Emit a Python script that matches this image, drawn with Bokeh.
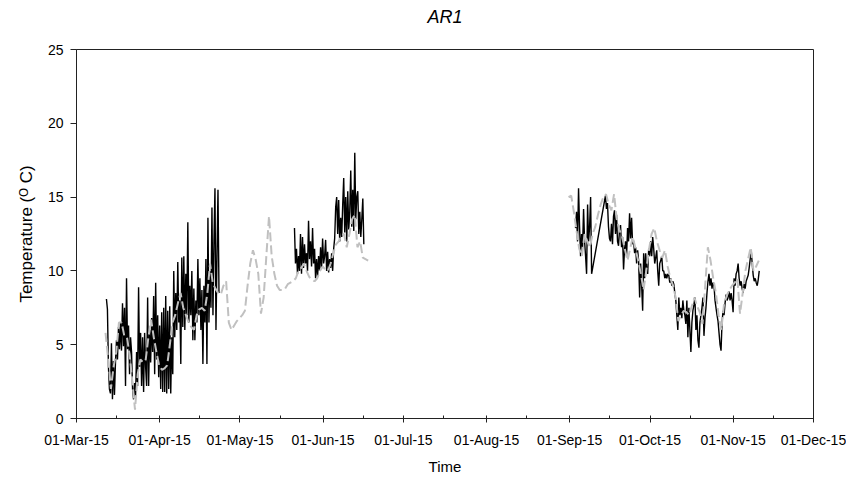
import pandas as pd
from bokeh.plotting import figure
from bokeh.models import FixedTicker, DatetimeTickFormatter, Range1d, LinearAxis
from bokeh.embed import file_html
from bokeh.resources import INLINE

# ---------------- data ----------------
title_text = "AR1"
x_label = "Time"
y_label = "Temperature (\u1d3c C)"

month_ticks = ["2015-03-01", "2015-04-01", "2015-05-01", "2015-06-01", "2015-07-01",
               "2015-08-01", "2015-09-01", "2015-10-01", "2015-11-01", "2015-12-01"]
minor_ticks = ["2015-03-16", "2015-04-16", "2015-05-16", "2015-06-16", "2015-07-16",
               "2015-08-16", "2015-09-16", "2015-10-16", "2015-11-16"]
y_ticks = [0, 5, 10, 15, 20, 25]

# measured temperature (solid black), 9-hourly
black1_start = "2015-03-12 04:00"
black1_temp = [8.1, 7.4, 3.5, 2.0, 1.7, 5.1, 1.3, 3.9, 1.6, 3.8, 5.3, 4.0, 6.2, 4.7, 6.5, 4.6,
               7.8, 4.9, 7.5, 2.2, 9.5, 4.7, 6.3, 3.0, 5.5, 4.5, 2.0, 1.3, 2.4, 1.5, 4.5, 2.2,
               8.9, 3.5, 5.8, 2.2, 5.5, 1.8, 5.8, 3.5, 2.2, 8.2, 2.2, 6.0, 3.8, 6.8, 4.5, 8.3,
               3.0, 9.2, 4.0, 7.0, 2.8, 6.3, 2.0, 7.2, 1.8, 7.5, 1.8, 8.3, 1.7, 7.3, 2.0, 7.6,
               1.7, 5.5, 3.0, 10.0, 5.5, 8.5, 6.0, 10.6, 6.5, 8.0, 3.7, 10.9, 6.2, 11.0, 6.0, 9.8,
               7.0, 13.3, 6.5, 9.0, 7.0, 10.0, 5.3, 8.8, 5.3, 8.0, 6.5, 10.8, 7.0, 9.5, 6.0, 8.7,
               3.7, 9.0, 6.5, 10.8, 3.7, 13.6, 6.5, 10.0, 7.5, 14.3, 7.0, 12.0, 15.6, 6.0, 11.0, 15.5,
               8.5]

black2_start = "2015-05-21 08:00"
black2_temp = [12.9, 10.5, 11.5, 9.8, 11.0, 10.0, 12.5, 9.8, 12.3, 10.2, 11.8, 10.5, 11.2, 10.0,
               13.4, 10.8, 12.0, 10.3, 12.9, 10.5, 11.5, 9.5, 10.8, 9.6, 11.0, 10.0, 11.6, 10.2,
               12.2, 10.5, 11.0, 12.1, 10.0, 11.3, 9.9, 10.8, 10.2, 11.2, 10.0, 11.5, 12.2, 14.3,
               15.0, 12.5, 14.8, 12.0, 13.6, 12.3, 14.5, 16.3, 12.6, 15.0, 12.0, 15.4, 12.8, 14.0,
               16.8, 13.0, 15.5, 12.7, 18.0, 13.5, 15.0, 15.4, 12.5, 14.0, 12.3, 13.5, 14.9, 11.8]

black3a_start = "2015-09-03 05:00"
black3a_temp = [12.9, 14.0, 12.0, 15.6, 13.0, 11.0, 12.5, 11.6, 14.2, 12.0, 11.0, 9.8, 14.5,
                12.0, 13.0, 15.0, 9.8]

black3b_start = "2015-09-14 09:00"
black3b_temp = [15.1, 14.2, 14.6, 13.0, 12.2, 12.0, 13.2, 11.8, 13.7, 14.1, 12.5, 13.8, 12.0,
                11.7, 12.8, 13.1, 11.6, 12.3, 10.1, 11.5, 12.0, 11.0, 12.9, 12.0, 13.9, 12.2,
                13.6, 11.8, 12.0, 11.2, 11.6, 10.5, 11.4, 10.7, 8.2, 10.5, 9.0, 7.3, 11.2, 9.5,
                11.2, 10.0, 9.8, 11.5, 11.0, 12.0, 11.0, 12.3, 11.5, 10.5, 10.9, 11.4, 10.0, 9.0,
                10.5, 10.7, 11.0, 10.0, 10.0, 9.5, 9.8, 9.5, 9.8, 9.7, 9.2, 9.5, 9.0, 9.3, 9.1,
                8.5, 8.0, 7.0, 6.0, 8.2, 7.0, 7.5, 6.8, 8.0, 7.3, 7.0, 6.4, 8.0, 5.5, 7.5, 6.0,
                4.5, 6.5, 7.3, 7.7, 8.2, 6.0, 7.0, 5.3, 4.8, 6.5, 7.0, 7.5, 8.2, 5.6, 6.8, 7.5,
                8.5, 9.3, 9.8, 9.0, 9.5, 8.8, 9.2, 9.0, 8.0, 7.5, 7.0, 6.6, 5.8, 5.0, 4.6, 6.5,
                7.3, 7.0, 7.8, 8.4, 8.0, 8.2, 8.6, 8.0, 8.5, 8.0, 7.2, 9.5, 9.0, 9.8, 10.0, 10.5,
                9.5, 9.0, 9.3, 8.8, 8.5, 9.1, 8.8, 9.3, 9.5, 9.7, 10.2, 10.8, 11.4, 10.5, 9.7,
                9.3, 9.5, 9.2, 9.0, 9.4, 10.0]

# modelled temperature (dashed grey), daily
grey1_start = "2015-03-11 20:00"
grey1_temp = [5.8, 4.0, 2.0, 3.5, 4.5, 6.5, 6.5, 5.6, 5.5, 4.3, 2.5, 0.6, 3.0, 4.0, 3.8, 4.0,
              5.5, 6.7, 5.5, 4.5, 3.6, 3.3, 3.4, 3.6, 5.0, 6.5, 7.0, 7.8, 8.5, 7.5, 7.0, 6.5,
              6.2, 6.0, 7.0, 7.4, 7.5, 7.3, 8.5, 10.5, 9.2, 8.8, 8.5, 8.4, 9.0, 9.3, 6.5, 6.0,
              6.3, 6.6, 6.8, 7.0, 7.3, 9.0, 10.5, 11.4, 10.8, 9.8, 7.1, 8.2, 11.0, 13.7, 11.0,
              9.8, 9.0, 8.7, 8.7, 8.8, 9.1, 9.2, 9.3, 9.5, 10.0, 10.2, 10.5, 10.0, 9.6, 9.4,
              9.3, 9.5, 10.0, 10.3, 10.1, 10.0, 10.5, 11.2, 11.8, 12.0, 12.4, 12.5, 11.6, 12.5,
              13.5, 13.8, 11.6, 12.0, 10.9, 10.8, 10.7]

grey2_start = "2015-08-31 14:00"
grey2_temp = [15.0, 15.1, 14.0, 12.7, 11.5, 11.0, 12.5, 12.0, 11.6, 12.5, 13.0, 13.8, 14.5,
              15.0, 15.2, 14.5, 14.1, 15.2, 13.5, 12.8, 12.3, 11.5, 10.7, 11.5, 12.3, 11.5,
              10.7, 9.8, 8.7, 10.0, 11.4, 12.5, 12.9, 12.0, 11.4, 10.9, 11.4, 10.3, 9.5, 9.0,
              8.2, 6.6, 7.0, 7.3, 7.2, 7.0, 7.6, 8.2, 7.6, 7.2, 6.4, 9.0, 11.6, 10.7, 9.5,
              8.5, 7.0, 6.0, 7.7, 8.3, 8.7, 9.0, 9.2, 9.5, 7.1, 8.5, 10.0, 10.8, 11.6, 10.0,
              10.3, 10.7]


def times(start, freq, vals):
    return list(pd.date_range(start, periods=len(vals), freq=freq))


FONT = "Liberation Sans"

p = figure(width=846, height=482, x_axis_type="datetime", output_backend="svg",
           toolbar_location=None,
           x_range=Range1d(pd.Timestamp(month_ticks[0]), pd.Timestamp(month_ticks[-1])),
           y_range=Range1d(y_ticks[0], y_ticks[-1]),
           min_border_left=76, min_border_right=33, min_border_top=49, min_border_bottom=64)

p.background_fill_color = "white"
p.border_fill_color = "white"
p.outline_line_color = "#222222"
p.outline_line_width = 1
p.xgrid.visible = False
p.ygrid.visible = False

# black measured series
p.line(times(black1_start, "9h", black1_temp), black1_temp, line_color="black", line_width=1.4)
p.line(times(black2_start, "9h", black2_temp), black2_temp, line_color="black", line_width=1.4)
p.line(times(black3a_start, "9h", black3a_temp) + times(black3b_start, "9h", black3b_temp),
       black3a_temp + black3b_temp, line_color="black", line_width=1.4)

# grey dashed series
p.line(times(grey1_start, "1D", grey1_temp), grey1_temp, line_color="#c0c0c0", line_width=2,
       line_dash="9 4")
p.line(times(grey2_start, "1D", grey2_temp), grey2_temp, line_color="#c0c0c0", line_width=2,
       line_dash="9 4")

# x axis
to_ms = lambda s: pd.Timestamp(s).value / 1e6
p.xaxis.ticker = FixedTicker(ticks=[to_ms(t) for t in month_ticks],
                             minor_ticks=[to_ms(t) for t in minor_ticks])
fmt = "%d-%b-%y"
p.xaxis.formatter = DatetimeTickFormatter(microseconds=fmt, milliseconds=fmt, seconds=fmt,
                                          minsec=fmt, minutes=fmt, hourmin=fmt, hours=fmt,
                                          days=fmt, months=fmt, years=fmt)
p.xaxis.axis_label = x_label
p.xaxis.axis_label_standoff = 7
p.xaxis.major_tick_in = 3
p.xaxis.major_tick_out = 4
p.xaxis.minor_tick_in = 3
p.xaxis.minor_tick_out = 0
p.xaxis.major_label_standoff = 9

# y axis
p.yaxis.ticker = FixedTicker(ticks=y_ticks, minor_ticks=[])
p.yaxis.axis_label = y_label
p.yaxis.axis_label_standoff = 9
p.yaxis.major_tick_in = 0
p.yaxis.major_tick_out = 6
p.yaxis.major_label_standoff = 7

for ax in (p.xaxis[0], p.yaxis[0]):
    ax.axis_line_color = "#222222"
    ax.major_tick_line_color = "#222222"
    ax.minor_tick_line_color = "#222222"
    ax.major_label_text_font = FONT
    ax.major_label_text_font_size = "14px"
    ax.major_label_text_color = "black"
    ax.axis_label_text_font = FONT
    ax.axis_label_text_font_style = "normal"
    ax.axis_label_text_color = "black"
p.xaxis.axis_label_text_font_size = "15px"
p.yaxis.axis_label_text_font_size = "17px"

# title, carried by a bare axis above the frame
title_axis = LinearAxis(ticker=FixedTicker(ticks=[], minor_ticks=[]), axis_label=title_text,
                        axis_line_color=None, major_tick_line_color=None,
                        minor_tick_line_color=None, major_label_text_font_size="0px",
                        major_tick_in=0, major_tick_out=0, minor_tick_in=0, minor_tick_out=0,
                        major_label_standoff=0, axis_label_standoff=23,
                        axis_label_text_font=FONT, axis_label_text_font_size="18px",
                        axis_label_text_font_style="italic", axis_label_text_color="black")
p.add_layout(title_axis, "above")

open("out.html", "w").write(file_html(p, INLINE))
